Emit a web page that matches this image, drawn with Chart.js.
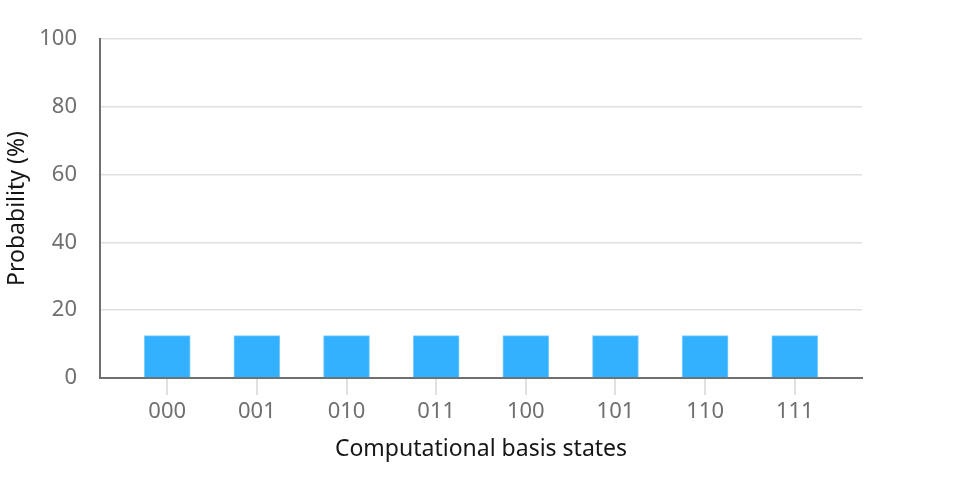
<!DOCTYPE html>
<html>
<head>
<meta charset="utf-8">
<script src="https://cdn.jsdelivr.net/npm/chart.js@4"></script>
<style>
  html, body { margin: 0; padding: 0; background: #fff; }
  #wrap { width: 960px; height: 500px; }
</style>
</head>
<body>
<div id="wrap"><canvas id="grafico"></canvas></div>
<script>
// estados da base computacional e probabilidades (%)
const estados = ["000", "001", "010", "011", "100", "101", "110", "111"];
const probabilidades = [12.5, 12.5, 12.5, 12.5, 12.5, 12.5, 12.5, 12.5];
const ticksY = [0, 20, 40, 60, 80, 100];

const fonte = "'Noto Sans', 'Open Sans', sans-serif";

const pontos = estados.map((e, i) => ({ x: i, y: probabilidades[i] }));

// tracinhos cinza-claro sob o eixo x, em cada estado
const marcasX = {
  id: "marcasX",
  afterDraw(chart) {
    const eixo = chart.scales.x;
    const ctx = chart.ctx;
    ctx.save();
    ctx.strokeStyle = "#e0e0e0";
    ctx.lineWidth = 2;
    eixo.ticks.forEach((t) => {
      const px = Math.round(eixo.getPixelForValue(t.value));
      ctx.beginPath();
      ctx.moveTo(px, eixo.top + 1);
      ctx.lineTo(px, eixo.top + 17);
      ctx.stroke();
    });
    ctx.restore();
  },
};

new Chart(document.getElementById("grafico"), {
  type: "bar",
  data: {
    datasets: [
      {
        data: pontos,
        backgroundColor: "#33b1ff",
        borderColor: "#82cfff",
        borderWidth: { top: 1, left: 1, right: 1, bottom: 0 },
        borderSkipped: false,
        barThickness: 46,
      },
    ],
  },
  plugins: [marcasX],
  options: {
    responsive: true,
    maintainAspectRatio: false,
    animation: false,
    layout: { padding: { left: 0, right: 98, top: 39, bottom: 37 } },
    plugins: { legend: { display: false }, tooltip: { enabled: false } },
    scales: {
      x: {
        type: "linear",
        offset: false,
        min: -0.75,
        max: 7.75,
        afterBuildTicks: (eixo) => {
          eixo.ticks = estados.map((e, i) => ({ value: i }));
        },
        ticks: {
          callback: (v) => estados[v],
          color: "#6f6f6f",
          font: { family: fonte, size: 22 },
          padding: 4,
          maxRotation: 0,
        },
        grid: {
          offset: false,
          drawOnChartArea: false,
          drawTicks: true,
          tickLength: 17,
          color: "#e0e0e0",
          lineWidth: 2,
        },
        border: { color: "#6f6f6f", width: 2 },
        title: {
          display: true,
          text: "Computational basis states",
          color: "#161616",
          font: { family: fonte, size: 23 },
          padding: { top: 6, bottom: 0 },
        },
      },
      y: {
        min: 0,
        max: 100,
        afterBuildTicks: (eixo) => {
          eixo.ticks = ticksY.map((v) => ({ value: v }));
        },
        afterFit: (eixo) => {
          eixo.width = 100;
        },
        ticks: {
          color: "#6f6f6f",
          font: { family: fonte, size: 22 },
          padding: 23,
        },
        grid: {
          color: "#e0e0e0",
          lineWidth: 1.5,
          drawTicks: false,
        },
        border: { color: "#6f6f6f", width: 2 },
        title: {
          display: true,
          text: "Probability (%)",
          color: "#161616",
          font: { family: fonte, size: 23 },
          padding: { top: 4, bottom: 0 },
        },
      },
    },
  },
});
</script>
</body>
</html>
